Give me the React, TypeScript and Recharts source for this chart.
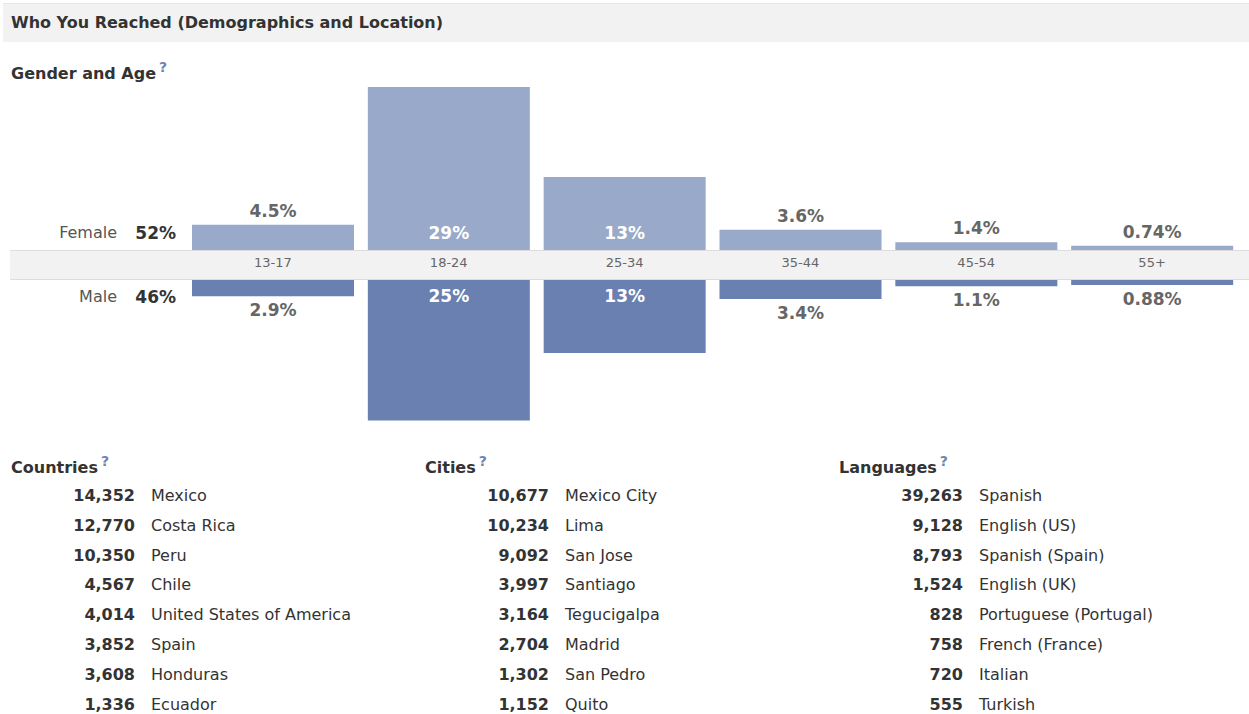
import React from "react";
import { BarChart, Bar, XAxis, YAxis, LabelList } from "recharts";

const ages = ["13-17", "18-24", "25-34", "35-44", "45-54", "55+"];
const femaleShare = [4.5, 29, 13, 3.6, 1.4, 0.74];
const maleShare = [2.9, 25, 13, 3.4, 1.1, 0.88];
const genderNames = ["Female", "Male"];
const genderTotals = [52, 46];

const countryNames = ["Mexico", "Costa Rica", "Peru", "Chile", "United States of America", "Spain", "Honduras", "Ecuador"];
const countryCounts = [14352, 12770, 10350, 4567, 4014, 3852, 3608, 1336];
const cityNames = ["Mexico City", "Lima", "San Jose", "Santiago", "Tegucigalpa", "Madrid", "San Pedro", "Quito"];
const cityCounts = [10677, 10234, 9092, 3997, 3164, 2704, 1302, 1152];
const languageNames = ["Spanish", "English (US)", "Spanish (Spain)", "English (UK)", "Portuguese (Portugal)", "French (France)", "Italian", "Turkish"];
const languageCounts = [39263, 9128, 8793, 1524, 828, 758, 720, 555];

const FONT = '"DejaVu Sans", Verdana, sans-serif';
const FEMALE_COLOR = "#99a9c9";
const MALE_COLOR = "#6a80b0";
const MAX_SHARE = 29;

const ageData = ages.map((age, i) => ({ age, female: femaleShare[i], male: maleShare[i] }));

function Help() {
  return (
    <span style={{ color: "#6d84b4", fontSize: 14, fontWeight: "bold", position: "relative", top: -7, marginLeft: 3 }}>?</span>
  );
}

function shareLabel(side: "female" | "male") {
  return (props: any) => {
    const { x, y, width, height, value } = props;
    const top = Math.min(y, y + height);
    const bottom = Math.max(y, y + height);
    const inside = value >= 10;
    let ty: number;
    if (side === "female") ty = inside ? bottom - 17 : top - 14;
    else ty = inside ? top + 16 : bottom + 14;
    return (
      <text
        x={x + width / 2}
        y={ty}
        textAnchor="middle"
        dominantBaseline="central"
        fontFamily={FONT}
        fontSize={17}
        fontWeight="bold"
        fill={inside ? "#ffffff" : "#666666"}
      >
        {`${value}%`}
      </text>
    );
  };
}

function TopList({ left, title, names, counts }: { left: number; title: string; names: string[]; counts: number[] }) {
  return (
    <div style={{ position: "absolute", left, top: 0 }}>
      <div style={{ position: "absolute", left: 0, top: 458, whiteSpace: "nowrap", fontWeight: "bold", fontSize: 16, lineHeight: "20px", color: "#333" }}>
        {title}
        <Help />
      </div>
      {names.map((name, i) => (
        <React.Fragment key={name}>
          <div style={{ position: "absolute", left: 0, width: 124, top: 486 + i * 29.8, textAlign: "right", fontWeight: "bold", fontSize: 16, lineHeight: "20px", color: "#333" }}>
            {counts[i].toLocaleString("en-US")}
          </div>
          <div style={{ position: "absolute", left: 140, top: 486 + i * 29.8, whiteSpace: "nowrap", fontSize: 16, lineHeight: "20px", color: "#333" }}>
            {name}
          </div>
        </React.Fragment>
      ))}
    </div>
  );
}

export default function App() {
  return (
    <div style={{ position: "absolute", left: 0, top: 0, width: 1249, height: 714, background: "#fff", fontFamily: FONT, overflow: "hidden" }}>
      <div style={{ position: "absolute", left: 3, top: 3, width: 1246, height: 39, background: "#f2f2f2", borderTop: "1px solid #e6e6e6", boxSizing: "border-box", paddingLeft: 8, lineHeight: "38px", fontWeight: "bold", fontSize: 16, color: "#333" }}>
        Who You Reached (Demographics and Location)
      </div>
      <div style={{ position: "absolute", left: 11, top: 64, fontWeight: "bold", fontSize: 16, lineHeight: "20px", color: "#333" }}>
        Gender and Age
        <Help />
      </div>

      <div style={{ position: "absolute", left: 10, top: 250, width: 1239, height: 30, background: "#f2f2f2", borderTop: "1px solid #dddddd", borderBottom: "1px solid #dddddd", boxSizing: "border-box" }} />

      {genderNames.map((g, i) => (
        <React.Fragment key={g}>
          <div style={{ position: "absolute", left: 0, width: 117, top: (i === 0 ? 233 : 297) - 10, textAlign: "right", fontSize: 16, lineHeight: "20px", color: "#555" }}>{g}</div>
          <div style={{ position: "absolute", left: 0, width: 176, top: (i === 0 ? 233 : 297) - 10, textAlign: "right", fontSize: 17, fontWeight: "bold", lineHeight: "20px", color: "#333" }}>{`${genderTotals[i]}%`}</div>
        </React.Fragment>
      ))}

      <div style={{ position: "absolute", left: 0, top: 87 }}>
        <BarChart width={1249} height={193} data={ageData} margin={{ top: 0, right: 9, bottom: 0, left: 185 }}>
          <XAxis dataKey="age" axisLine={false} tickLine={false} height={30} interval={0} tick={{ fill: "#666", fontSize: 13, fontFamily: FONT }} />
          <YAxis hide domain={[0, MAX_SHARE]} allowDataOverflow />
          <Bar dataKey="female" fill={FEMALE_COLOR} barSize={162} isAnimationActive={false}>
            <LabelList dataKey="female" content={shareLabel("female")} />
          </Bar>
        </BarChart>
      </div>

      <div style={{ position: "absolute", left: 0, top: 280 }}>
        <BarChart width={1249} height={163} data={ageData} margin={{ top: 0, right: 9, bottom: 0, left: 185 }}>
          <XAxis dataKey="age" hide />
          <YAxis hide reversed domain={[0, MAX_SHARE]} allowDataOverflow />
          <Bar dataKey="male" fill={MALE_COLOR} barSize={162} isAnimationActive={false}>
            <LabelList dataKey="male" content={shareLabel("male")} />
          </Bar>
        </BarChart>
      </div>

      <TopList left={11} title="Countries" names={countryNames} counts={countryCounts} />
      <TopList left={425} title="Cities" names={cityNames} counts={cityCounts} />
      <TopList left={839} title="Languages" names={languageNames} counts={languageCounts} />
    </div>
  );
}
